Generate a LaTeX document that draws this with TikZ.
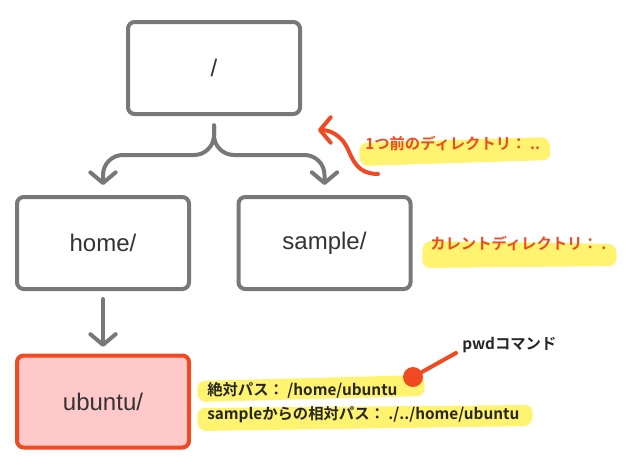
\documentclass[tikz,border=0pt]{standalone}
\usepackage{fontspec}
\setmainfont{Liberation Sans}
\newfontfamily\jp{Noto Sans CJK JP}[BoldFont={* Bold}]
\usetikzlibrary{arrows.meta}
\definecolor{boxgray}{HTML}{787878}
\definecolor{txtgray}{HTML}{333333}
\definecolor{redor}{HTML}{F04A22}
\definecolor{pinkfill}{HTML}{FFC9C9}
\definecolor{hl}{HTML}{FFF36F}
\tikzset{
  dirbox/.style={draw=boxgray, line width=3pt, rounded corners=5pt, fill=white,
    minimum width=129pt, minimum height=69pt, inner sep=0pt,
    font=\fontsize{18}{20}\selectfont, text=txtgray},
  curbox/.style={dirbox, draw=redor, fill=pinkfill},
  conn/.style={draw=boxgray, line width=3pt, line cap=round, line join=round,
    -{Straight Barb[length=8pt,width=19pt,line cap=round,line join=round]}},
  redconn/.style={draw=redor, line width=3pt, line cap=round, line join=round,
    -{Straight Barb[length=8pt,width=19pt,line cap=round,line join=round]}},
  note/.style={font=\jp\bfseries\fontsize{11.5}{13}\selectfont, anchor=west, inner sep=0pt},
  rednote/.style={note, text=redor},
  blknote/.style={note, text=black!85},
  marker/.style={fill=hl, rounded corners=6pt},
}
\begin{document}
\begin{tikzpicture}[x=0.75pt,y=-0.75pt]
\useasboundingbox (0,0) rectangle (638,472);
% highlights
\path[marker] (359,143) -- (549,137) -- (551,160) -- (360,166) -- cycle;
\path[marker] (423,241) -- (616,244) -- (617,266) -- (422,268) -- cycle;
\path[marker] (197,381) -- (424,375) -- (425,396) -- (198,402) -- cycle;
\path[marker] (197,408) -- (533,405) -- (532,426) -- (198,431) -- cycle;
% boxes
\node[dirbox] (root) at (214,68) {/};
\node[dirbox] (home) at (103,243) {home/};
\node[dirbox] (sample) at (324.5,243) {sample/};
\node[curbox] (ubuntu) at (103,401.5) {ubuntu/};
% connectors
\draw[conn, rounded corners=15pt] ([yshift=-7pt]root.south) |- (home.north |- 0,155) -- ([yshift=7.5pt]home.north);
\draw[conn, rounded corners=15pt] ([yshift=-7pt]root.south) |- (sample.north |- 0,155) -- ([yshift=7.5pt]sample.north);
\draw[conn] ([yshift=-6pt]home.south) -- ([yshift=5pt]ubuntu.north);
% red curved arrow
\coordinate (rtail) at (378,174);
\coordinate (rtip) at (318,130);
\draw[redconn] (rtail) .. controls (352,174) and (352,152) .. (343,141) .. controls (336,133) and (328,130) .. (rtip);
% notes
\node[rednote] (prev) at (365,144) {1つ前のディレクトリ： ..};
\node[rednote] (cur) at (430,244) {カレントディレクトリ： .};
\node[blknote] (abs) at (207,390) {絶対パス： /home/ubuntu};
\node[blknote] (rel) at (207,415) {sampleからの相対パス： ./../home/ubuntu};
\node[blknote] (pwd) at (462,345) {pwdコマンド};
% pwd pointer
\coordinate (pwdend) at (456,353);
\node[circle, fill=redor, minimum size=15pt, inner sep=0pt] (dot) at (413,377) {};
\draw[redor, line width=3pt, line cap=round] (dot.center) -- (pwdend);
\end{tikzpicture}
\end{document}
